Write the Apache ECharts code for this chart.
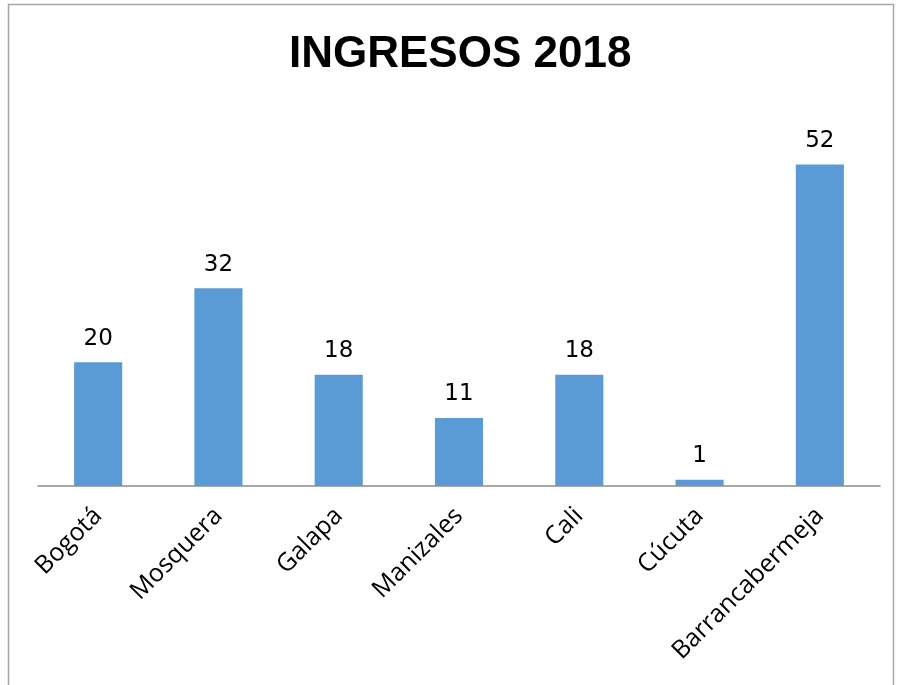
<!DOCTYPE html>
<html>
<head>
<meta charset="utf-8">
<script src="https://cdn.jsdelivr.net/npm/echarts@6/dist/echarts.min.js"></script>
<style>
  html, body { margin: 0; padding: 0; background: #fff; }
  #chart { width: 899px; height: 685px; }
</style>
</head>
<body>
<div id="chart"></div>
<script>
// Ingresos por ciudad, 2018
const chartTitle = 'INGRESOS 2018';
const cities = ['Bogotá', 'Mosquera', 'Galapa', 'Manizales', 'Cali', 'Cúcuta', 'Barrancabermeja'];
const ingresos = [20, 32, 18, 11, 18, 1, 52];

const chart = echarts.init(document.getElementById('chart'), null, { renderer: 'canvas' });

chart.setOption({
  backgroundColor: '#ffffff',
  animation: false,
  title: {
    text: chartTitle,
    left: 284,
    top: 28,
    textStyle: {
      fontFamily: 'Liberation Sans',
      fontWeight: 'bold',
      fontSize: 44,
      color: '#000000'
    }
  },
  graphic: [{
    type: 'rect',
    shape: { x: 8.5, y: 4.5, width: 885, height: 720 },
    style: { fill: 'none', stroke: '#a6a6a6', lineWidth: 1.5 },
    silent: true,
    z: -1
  }],
  grid: {
    left: 38,
    right: 19,
    top: 115,
    bottom: 199,
    containLabel: false
  },
  xAxis: {
    type: 'category',
    data: cities,
    axisLine: { lineStyle: { color: '#8c8c8c', width: 1.5 } },
    axisTick: { show: false },
    axisLabel: {
      rotate: 45,
      interval: 0,
      margin: 26,
      fontFamily: 'Open Sans',
      fontSize: 25,
      color: '#000000'
    }
  },
  yAxis: {
    type: 'value',
    min: 0,
    max: 60,
    show: false,
    splitLine: { show: false }
  },
  series: [{
    type: 'bar',
    data: ingresos,
    barCategoryGap: '60%',
    itemStyle: { color: '#5b9bd5' },
    label: {
      show: true,
      position: 'top',
      distance: 12,
      fontFamily: 'DejaVu Sans',
      fontSize: 23,
      color: '#000000'
    }
  }]
});
</script>
</body>
</html>
